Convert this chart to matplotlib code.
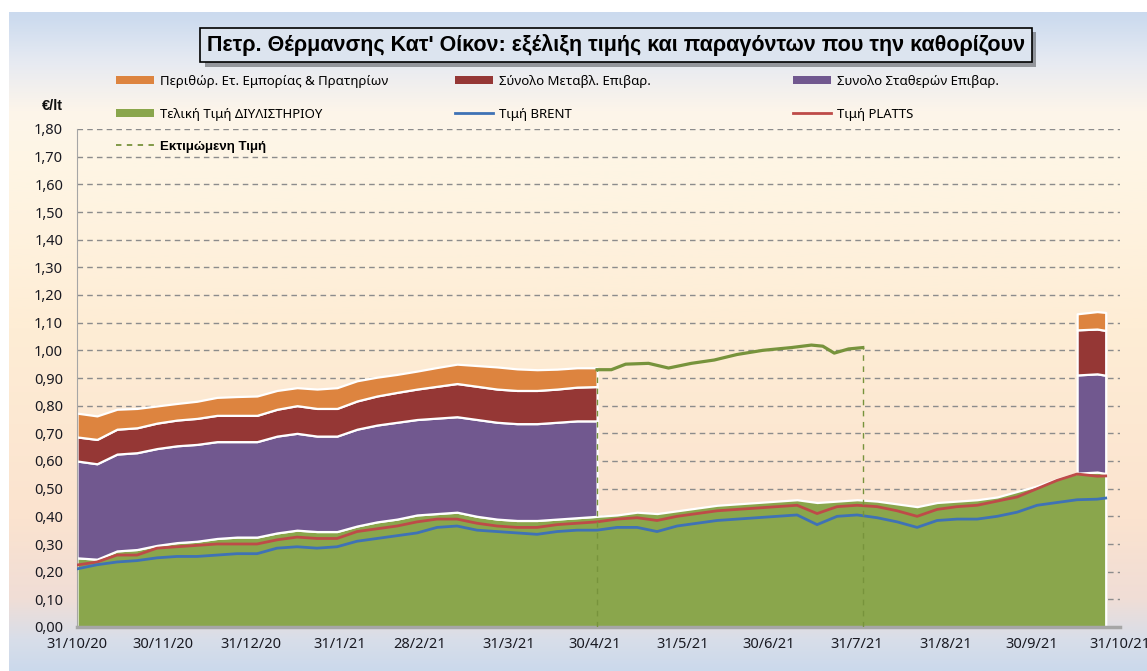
#!/usr/bin/env python3
"""
Heating oil price build-up chart
"""
import numpy as np
import pandas as pd
import matplotlib
matplotlib.use('Agg')
import matplotlib.pyplot as plt
from matplotlib.lines import Line2D
from matplotlib.patches import Patch
import matplotlib.patheffects as pe

plt.rcParams['font.family'] = ['Noto Sans', 'DejaVu Sans']
BOLD_FONT = ['Liberation Sans', 'DejaVu Sans']

# ---- data (€/lt) ----
dates = ['2020-10-31', '2020-11-07', '2020-11-14', '2020-11-21', '2020-11-28',
         '2020-12-05', '2020-12-12', '2020-12-19', '2020-12-26', '2021-01-02',
         '2021-01-09', '2021-01-16', '2021-01-23', '2021-01-30', '2021-02-06',
         '2021-02-13', '2021-02-20', '2021-02-27', '2021-03-06', '2021-03-13',
         '2021-03-20', '2021-03-27', '2021-04-03', '2021-04-10', '2021-04-17',
         '2021-04-24', '2021-05-01', '2021-05-08', '2021-05-15', '2021-05-22',
         '2021-05-29', '2021-06-05', '2021-06-12', '2021-06-19', '2021-06-26',
         '2021-07-03', '2021-07-10', '2021-07-17', '2021-07-24', '2021-07-31',
         '2021-08-07', '2021-08-14', '2021-08-21', '2021-08-28', '2021-09-04',
         '2021-09-11', '2021-09-18', '2021-09-25', '2021-10-02', '2021-10-09',
         '2021-10-16', '2021-10-23', '2021-10-26']

refinery = [0.250, 0.245, 0.275, 0.280, 0.295, 0.305, 0.310, 0.320, 0.325, 0.325,
            0.340, 0.350, 0.345, 0.345, 0.365, 0.380, 0.390, 0.405, 0.410, 0.415,
            0.400, 0.390, 0.385, 0.385, 0.390, 0.395, 0.400, 0.405, 0.415, 0.410,
            0.420, 0.430, 0.440, 0.445, 0.450, 0.455, 0.460, 0.450, 0.455, 0.460,
            0.455, 0.445, 0.435, 0.450, 0.455, 0.460, 0.470, 0.490, 0.510, 0.535,
            0.556, 0.560, 0.555]

platts = [0.224, 0.235, 0.260, 0.260, 0.285, 0.290, 0.295, 0.300, 0.300, 0.300,
          0.315, 0.325, 0.320, 0.320, 0.345, 0.355, 0.365, 0.380, 0.390, 0.390,
          0.375, 0.365, 0.360, 0.360, 0.370, 0.375, 0.380, 0.390, 0.395, 0.385,
          0.400, 0.410, 0.420, 0.425, 0.430, 0.435, 0.440, 0.410, 0.435, 0.440,
          0.435, 0.420, 0.400, 0.425, 0.435, 0.440, 0.455, 0.470, 0.500, 0.530,
          0.553, 0.545, 0.546]

brent = [0.210, 0.225, 0.235, 0.240, 0.250, 0.255, 0.255, 0.260, 0.265, 0.265,
         0.285, 0.290, 0.285, 0.290, 0.310, 0.320, 0.330, 0.340, 0.360, 0.365,
         0.350, 0.345, 0.340, 0.335, 0.345, 0.350, 0.350, 0.360, 0.360, 0.345,
         0.365, 0.375, 0.385, 0.390, 0.395, 0.400, 0.405, 0.370, 0.400, 0.405,
         0.395, 0.380, 0.360, 0.385, 0.390, 0.390, 0.400, 0.415, 0.440, 0.450,
         0.460, 0.462, 0.466]

# first reported period: first 27 dates (31/10/20 - 1/5/21)
fixed_taxes_1 = [0.350, 0.345, 0.350, 0.350, 0.350, 0.350, 0.350, 0.350, 0.345, 0.345,
                 0.350, 0.350, 0.345, 0.345, 0.350, 0.350, 0.350, 0.345, 0.345, 0.345,
                 0.350, 0.350, 0.350, 0.350, 0.350, 0.350, 0.345]
variable_taxes_1 = [0.087, 0.088, 0.090, 0.090, 0.092, 0.093, 0.094, 0.095, 0.095, 0.095,
                    0.097, 0.100, 0.100, 0.100, 0.102, 0.105, 0.108, 0.110, 0.115, 0.120,
                    0.120, 0.120, 0.120, 0.120, 0.120, 0.122, 0.124]
margin_1 = [0.086, 0.085, 0.072, 0.070, 0.062, 0.060, 0.062, 0.065, 0.068, 0.070,
            0.068, 0.065, 0.070, 0.075, 0.073, 0.068, 0.065, 0.065, 0.068, 0.070,
            0.075, 0.080, 0.078, 0.075, 0.072, 0.070, 0.068]

# second reported period: last 3 dates (16/10/21 - 26/10/21)
fixed_taxes_2 = [0.355, 0.355, 0.355]
variable_taxes_2 = [0.163, 0.162, 0.162]
margin_2 = [0.058, 0.063, 0.065]

est_dates = ['2021-05-01', '2021-05-06', '2021-05-11', '2021-05-19', '2021-05-26',
             '2021-06-03', '2021-06-11', '2021-06-19', '2021-06-28', '2021-07-08',
             '2021-07-15', '2021-07-19', '2021-07-23', '2021-07-28', '2021-08-02']
est_price = [0.930, 0.930, 0.950, 0.953, 0.936, 0.953, 0.965, 0.985, 1.000, 1.010,
             1.019, 1.015, 0.990, 1.005, 1.010]

tick_dates = ['2020-10-31', '2020-11-30', '2020-12-31', '2021-01-31', '2021-02-28',
              '2021-03-31', '2021-04-30', '2021-05-31', '2021-06-30', '2021-07-31',
              '2021-08-31', '2021-09-30', '2021-10-31']

labels = ['Περιθώρ. Ετ. Εμπορίας & Πρατηρίων', 'Σύνολο Μεταβλ. Επιβαρ.',
          'Συνολο Σταθερών Επιβαρ.', 'Τελική Τιμή ΔΙΥΛΙΣΤΗΡΙΟΥ', 'Τιμή BRENT',
          'Τιμή PLATTS', 'Εκτιμώμενη Τιμή']

c_margin = '#DD843F'
c_var = '#953735'
c_fixed = '#71588F'
c_ref = '#8AA64C'
c_brent = '#3F72B5'
c_platts = '#BE4B48'
c_est = '#77933C'

x = pd.to_datetime(dates)
x_est = pd.to_datetime(est_dates)
ticks = pd.to_datetime(tick_dates)
refinery = np.array(refinery)

fig = plt.figure(figsize=(11.47, 6.71), dpi=100)
fig.patch.set_facecolor('white')

# background gradient of the chart area (top -> bottom)
bg = fig.add_axes([9 / 1147, 0, 1 - 9 / 1147, 1 - 12 / 671], zorder=-10)
stops_y = [0.0, 0.012, 0.073, 0.15, 0.21, 0.48, 0.77, 0.89, 0.953, 1.0]
stops_c = ['#CBDAEE', '#CEDCEF', '#E6EAF2', '#FDF5EA', '#FEF6E6', '#FEEDD5',
           '#FBE3CF', '#F0DDD6', '#D8DEE9', '#CBD9EC']
rgb = np.array([matplotlib.colors.to_rgb(c) for c in stops_c])
yy = np.linspace(0, 1, 600)
grad = np.stack([np.interp(yy, stops_y, rgb[:, k]) for k in range(3)], axis=1)
bg.imshow(grad[:, None, :], aspect='auto', extent=[0, 1, 0, 1])
bg.axis('off')

ax = fig.add_axes([77 / 1147, 44 / 671, (1120 - 77) / 1147, (627 - 129) / 671])
ax.set_facecolor('none')

# stacked areas
n1 = len(fixed_taxes_1)
x1 = x[:n1]
b1 = refinery[:n1]
x2 = x[-len(fixed_taxes_2):]
b2 = refinery[-len(fixed_taxes_2):]
edge = dict(edgecolor='white', linewidth=1.6)

ax.fill_between(x, 0, refinery, facecolor=c_ref, zorder=1.1, **edge)
for xs, base, fx, vr, mg in [(x1, b1, fixed_taxes_1, variable_taxes_1, margin_1),
                             (x2, b2, fixed_taxes_2, variable_taxes_2, margin_2)]:
    t1 = base + np.array(fx)
    t2 = t1 + np.array(vr)
    t3 = t2 + np.array(mg)
    ax.fill_between(xs, base, t1, facecolor=c_fixed, zorder=1.2, **edge)
    ax.fill_between(xs, t1, t2, facecolor=c_var, zorder=1.3, **edge)
    ax.fill_between(xs, t2, t3, facecolor=c_margin, zorder=1.4, **edge)

ax.plot(x, platts, color=c_platts, lw=2, zorder=3)
ax.plot(x, brent, color=c_brent, lw=2, zorder=3)

# estimated price
ax.plot(x_est, est_price, color=c_est, lw=2.3, zorder=3)
ax.vlines([x_est[0], x_est[-1]], 0, [est_price[0], est_price[-1]],
          colors=c_est, linestyles=(0, (4, 4)), lw=1, zorder=3)

# axes styling
ax.set_xlim(ticks[0], ticks[-1])
ax.set_ylim(0, 1.8)
yt = np.arange(0, 1.81, 0.1)
ax.set_yticks(yt)
ax.set_yticklabels([f'{v:.2f}'.replace('.', ',') for v in yt])
ax.set_xticks(ticks)
ax.set_xticklabels([f'{d.day}/{d.month}/{d:%y}' for d in ticks])
ax.tick_params(length=0, labelsize=10.5, colors='#1A1A22', pad=7)
ax.tick_params(axis='y', pad=10)
ax.grid(axis='y', color='#8C8C8C', lw=1, linestyle=(0, (4, 3)))
ax.set_axisbelow(True)
for s in ['top', 'right']:
    ax.spines[s].set_visible(False)
ax.spines['left'].set_color('#A6A6A6')
ax.spines['bottom'].set_color('#A6A6A6')
ax.spines['bottom'].set_linewidth(2.5)

fig.text(52 / 1147, 1 - 106 / 671, '€/lt', ha='center', va='center',
         fontsize=10.5, fontweight='bold', family=BOLD_FONT, color='#111111')

# title box with shadow
t = fig.text(616 / 1147, 1 - 45 / 671,
             "Πετρ. Θέρμανσης Κατ' Οίκον: εξέλιξη τιμής και παραγόντων που την καθορίζουν",
             ha='center', va='center', fontsize=15.5, fontweight='bold', family=BOLD_FONT,
             color='black',
             bbox=dict(boxstyle='square,pad=0.3', fc='#DCE4EF', ec='black', lw=1.2))
t.get_bbox_patch().set_path_effects([pe.SimplePatchShadow(offset=(3, -3), alpha=0.5), pe.Normal()])

# legends, one per column
leg_kw = dict(frameon=False, fontsize=9.5, handlelength=2.9, handleheight=0.55,
              handletextpad=0.4, labelspacing=1.5, borderpad=0, borderaxespad=0,
              loc='upper left')
col1 = [Patch(fc=c_margin), Patch(fc=c_ref),
        Line2D([], [], color=c_est, lw=1.3, linestyle=(0, (3, 3)))]
col2 = [Patch(fc=c_var), Line2D([], [], color=c_brent, lw=2)]
col3 = [Patch(fc=c_fixed), Line2D([], [], color=c_platts, lw=2)]
lg1 = fig.legend(col1, [labels[0], labels[3], labels[6]],
                 bbox_to_anchor=(116 / 1147, 1 - 75 / 671), **leg_kw)
est_txt = lg1.get_texts()[2]
est_txt.set_fontweight('bold')
est_txt.set_family(BOLD_FONT)
fig.legend(col2, [labels[1], labels[4]], bbox_to_anchor=(455 / 1147, 1 - 75 / 671), **leg_kw)
fig.legend(col3, [labels[2], labels[5]], bbox_to_anchor=(793 / 1147, 1 - 75 / 671), **leg_kw)

fig.savefig('out.png', dpi=100)
